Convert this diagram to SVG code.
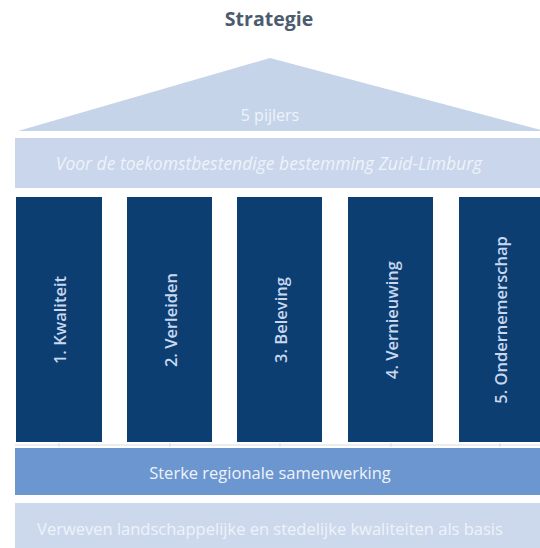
<svg xmlns="http://www.w3.org/2000/svg" width="540" height="548" viewBox="0 0 540 548">
<style>
text{font-family:"Open Sans","Liberation Sans",sans-serif;text-anchor:middle;dominant-baseline:central}
.pillar{fill:#0d3e72}
.ptxt{fill:#c8d8ee;font-size:16.5px;font-weight:600}
.light{fill:#c6d4ea}
.wt{fill:#eef3fa}
</style>
<rect width="540" height="548" fill="#ffffff"/>
<g id="title"><text x="269" y="18" font-size="19.5" font-weight="700" fill="#4b5b70">Strategie</text></g>
<g id="roof">
<polygon points="270,58 18,131 545,131" class="light"/>
<text x="270" y="115" font-size="16" class="wt">5 pijlers</text>
</g>
<g id="mission">
<rect x="15" y="138" width="525" height="50" fill="#c9d6ec"/>
<text x="269" y="163" font-size="17.5" font-style="italic" class="wt">Voor de toekomstbestendige bestemming Zuid-Limburg</text>
</g>
<g id="pillar1"><rect class="pillar" x="16" y="197" width="86" height="245"/><text class="ptxt" transform="translate(59,320) rotate(-90)">1. Kwaliteit</text></g>
<g id="pillar2"><rect class="pillar" x="127" y="197" width="85" height="245"/><text class="ptxt" transform="translate(170,320) rotate(-90)">2. Verleiden</text></g>
<g id="pillar3"><rect class="pillar" x="237" y="197" width="85" height="245"/><text class="ptxt" transform="translate(280,320) rotate(-90)">3. Beleving</text></g>
<g id="pillar4"><rect class="pillar" x="348" y="197" width="85" height="245"/><text class="ptxt" transform="translate(391,320) rotate(-90)">4. Vernieuwing</text></g>
<g id="pillar5"><rect class="pillar" x="459" y="197" width="81" height="245"/><text class="ptxt" transform="translate(500,320) rotate(-90)">5. Ondernemerschap</text></g>
<g id="connectors">
<path d="M15,445 H540 M59,443 V447 M170,443 V447 M280,443 V447 M391,443 V447 M500,443 V447" stroke="#d5dbe3" stroke-width="1" fill="none"/>
</g>
<g id="cooperation">
<rect x="15" y="448" width="525" height="47" fill="#6c96cf"/>
<text x="270" y="472" font-size="16.5" class="wt">Sterke regionale samenwerking</text>
</g>
<g id="base">
<rect x="15" y="503" width="525" height="45" fill="#ccd8ec"/>
<text x="270" y="528" font-size="16.5" class="wt">Verweven landschappelijke en stedelijke kwaliteiten als basis</text>
</g>
</svg>
